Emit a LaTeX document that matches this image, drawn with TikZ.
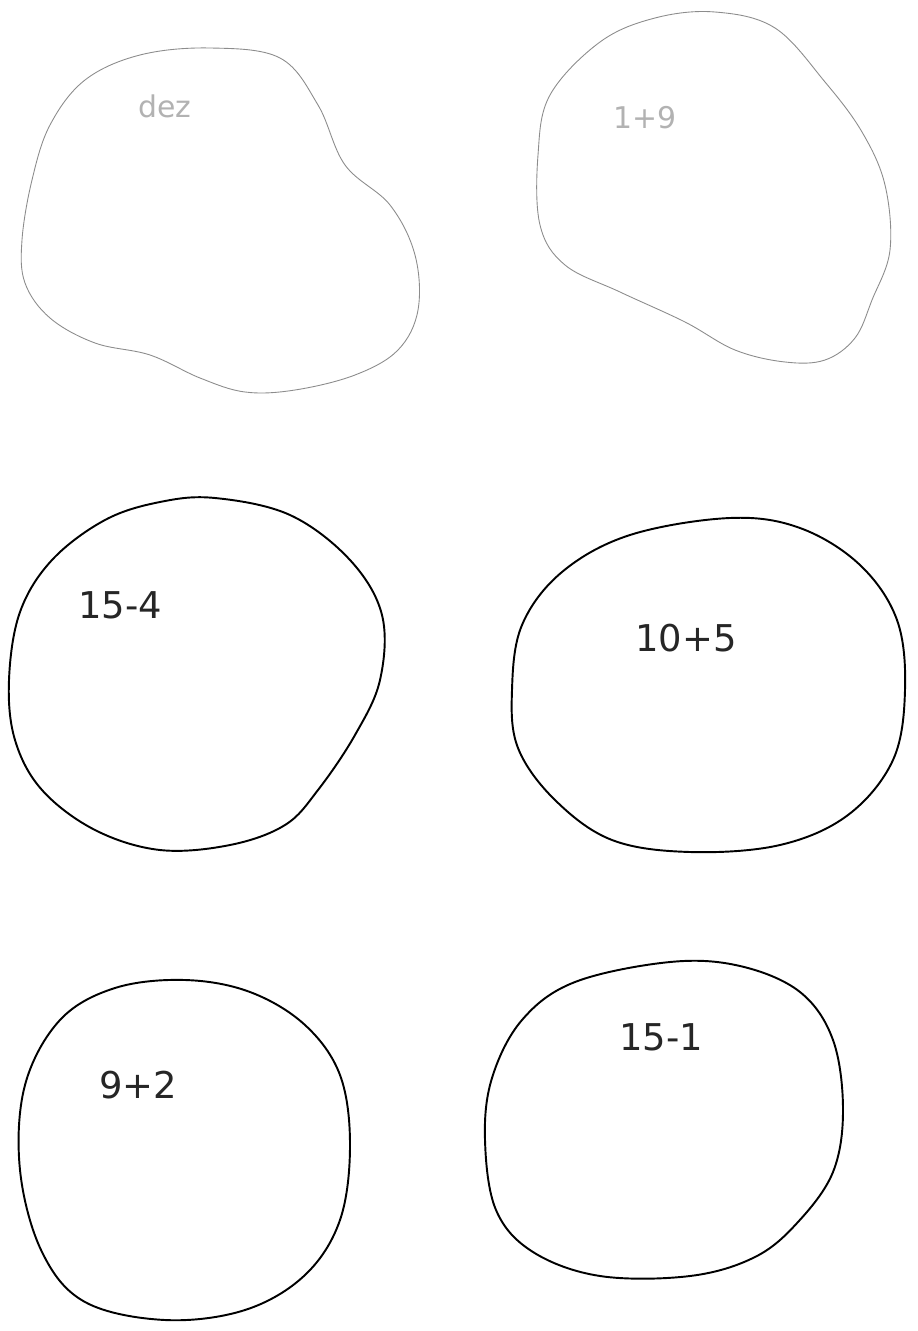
\documentclass[tikz,border=0pt]{standalone}
\usepackage{fontspec}
\setmainfont{DejaVu Sans}
\begin{document}
\begin{tikzpicture}[x=0.02cm,y=-0.02cm,
  faint/.style={draw=black!45,line width=0.5pt},
  dark/.style={draw=black,line width=1.1pt},
  lbl/.style={font=\fontsize{21}{24}\selectfont,text=black!85},
  flbl/.style={font=\fontsize{17}{20}\selectfont,text=black!30}]
\useasboundingbox[fill=white] (0,0) rectangle (918,1331);
% top-left blob
\draw[faint] plot[smooth cycle,tension=0.6] coordinates {
 (22,240) (32,180) (50,125) (85,80) (140,55) (210,48) (280,58) (318,105)
 (345,165) (390,205) (415,255) (418,310) (398,350) (355,375) (295,390)
 (245,392) (200,378) (150,355) (95,343) (50,318) (25,283)};
% top-right blob
\draw[faint] plot[smooth cycle,tension=0.6] coordinates {
 (715,12) (775,28) (825,82) (862,132) (885,185) (890,250) (872,300)
 (855,338) (825,360) (785,362) (735,350) (685,322) (620,292) (565,265)
 (540,225) (538,155) (550,95) (600,42) (655,18)};
% middle-left
\draw[dark] plot[smooth cycle,tension=0.6] coordinates {
 (215,498) (290,515) (350,560) (382,615) (380,680) (355,735) (318,790)
 (285,825) (230,845) (160,850) (95,830) (42,790) (15,740) (9,680) (20,612)
 (52,560) (105,520) (160,502)};
% middle-right
\draw[dark] plot[smooth cycle,tension=0.6] coordinates {
 (730,518) (800,528) (860,565) (897,620) (905,690) (893,760) (848,815)
 (780,845) (690,852) (612,840) (555,800) (518,748) (512,690) (522,625)
 (562,572) (630,535)};
% bottom-left
\draw[dark] plot[smooth cycle,tension=0.6] coordinates {
 (185,980) (250,992) (305,1025) (340,1075) (350,1145) (340,1220) (305,1275)
 (245,1310) (165,1320) (85,1302) (42,1252) (20,1170) (25,1085) (60,1020)
 (115,988)};
% bottom-right
\draw[dark] plot[smooth cycle,tension=0.6] coordinates {
 (670,962) (740,966) (800,992) (833,1040) (843,1110) (833,1172) (798,1222)
 (755,1257) (690,1276) (600,1276) (533,1252) (496,1210) (485,1140)
 (492,1078) (522,1020) (575,982)};
\node[flbl] (t1) at (165,106) {dez};
\node[flbl] (t2) at (645,118) {1+9};
\node[lbl] (t3) at (120,605) {15-4};
\node[lbl] (t4) at (686,638) {10+5};
\node[lbl] (t5) at (138,1085) {9+2};
\node[lbl] (t6) at (661,1037) {15-1};
\end{tikzpicture}
\end{document}
